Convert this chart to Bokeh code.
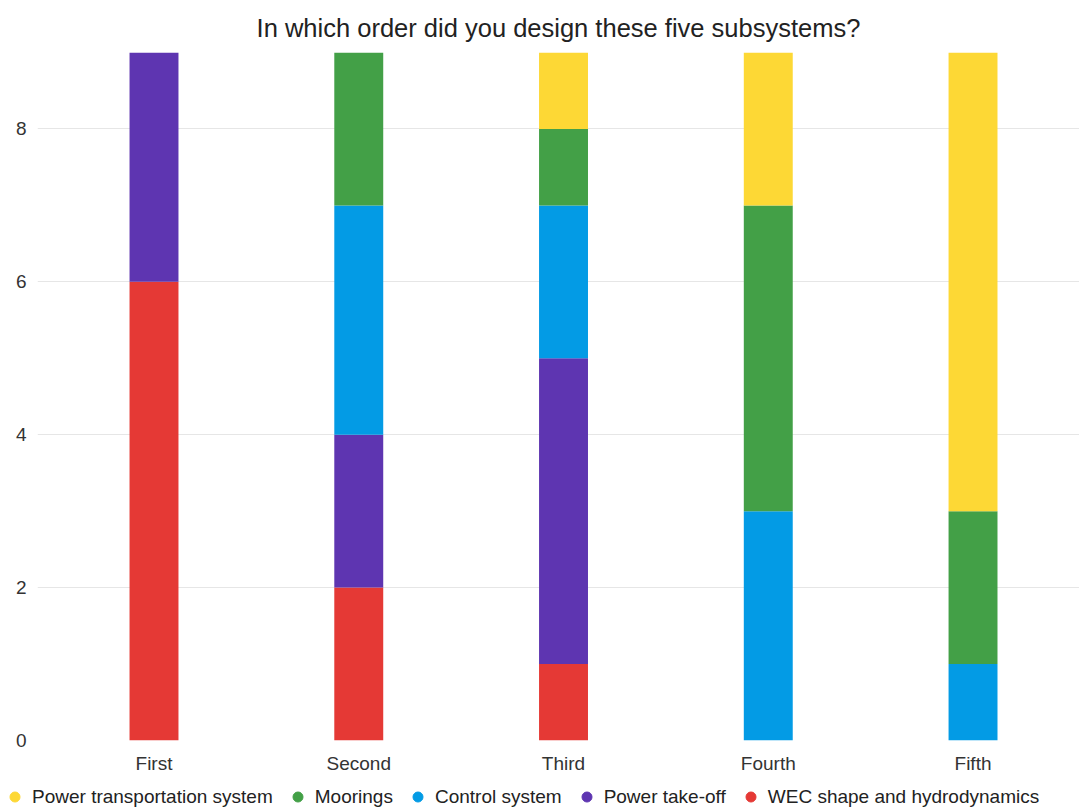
from bokeh.plotting import figure
from bokeh.layouts import column
from bokeh.models import ColumnDataSource, Legend, LegendItem, FixedTicker, Range1d
from bokeh.embed import file_html
from bokeh.resources import INLINE

categories = ["First", "Second", "Third", "Fourth", "Fifth"]
series = ["WEC shape and hydrodynamics", "Power take-off", "Control system",
          "Moorings", "Power transportation system"]
wec = [6, 2, 1, 0, 0]
pto = [3, 2, 4, 0, 0]
control = [0, 3, 2, 3, 1]
moorings = [0, 2, 1, 4, 2]
transport = [0, 0, 1, 2, 6]
colors = ["#e53935", "#5e35b1", "#039be5", "#43a047", "#fdd835"]
y_ticks = [0, 2, 4, 6, 8]

keys = ["wec", "pto", "control", "moorings", "transport"]
src = ColumnDataSource(dict(x=list(range(len(categories))), wec=wec, pto=pto,
                            control=control, moorings=moorings, transport=transport))

FONT = "Arial"
p = figure(width=1079, height=777, output_backend="svg", toolbar_location=None,
           x_range=Range1d(-0.569, 4.52), y_range=Range1d(0, 9),
           min_border_left=37, min_border_right=0, min_border_top=52, min_border_bottom=37,
           title="In which order did you design these five subsystems?")
p.outline_line_color = None
p.background_fill_color = "white"
p.border_fill_color = "white"

p.vbar_stack(keys, x="x", width=0.239, color=colors, line_color=None, source=src)

p.title.align = "center"
p.title.text_font = FONT
p.title.text_font_size = "25.5px"
p.title.text_font_style = "normal"
p.title.text_color = "#222222"
p.title.offset = 0
p.title.standoff = 22

p.xaxis.ticker = FixedTicker(ticks=list(range(len(categories))))
p.xaxis.major_label_overrides = {i: c for i, c in enumerate(categories)}
p.yaxis.ticker = FixedTicker(ticks=y_ticks)
for ax in (p.xaxis[0], p.yaxis[0]):
    ax.axis_line_color = None
    ax.major_tick_line_color = None
    ax.minor_tick_line_color = None
    ax.major_label_text_font = FONT
    ax.major_label_text_font_size = "19px"
    ax.major_label_text_color = "#333333"
p.xaxis.major_label_standoff = 6
p.yaxis.major_label_standoff = 5
p.xgrid.grid_line_color = None
p.ygrid.grid_line_color = "#e6e6e6"
p.ygrid.ticker = FixedTicker(ticks=y_ticks)

# legend strip below the chart
lg = figure(width=1079, height=32, output_backend="svg", toolbar_location=None,
            x_range=Range1d(0, 1), y_range=Range1d(0, 1),
            min_border_left=0, min_border_right=0, min_border_top=0, min_border_bottom=0)
lg.axis.visible = False
lg.grid.visible = False
lg.outline_line_color = None
lg.border_fill_color = "white"
for fig in (p, lg):
    try:
        fig.frame_align = False
    except Exception:
        pass
nan = float("nan")
legend_renderers = []
for name, col in zip(series, colors):
    r = lg.scatter(x=[nan], y=[nan], size=10, color=col, marker="circle")
    legend_renderers.append((name, r))
items = [LegendItem(label=n, renderers=[r]) for n, r in reversed(legend_renderers)]
legend = Legend(items=items, orientation="horizontal", location=(2, 0),
                label_text_font=FONT, label_text_font_size="19px", label_text_color="#222222",
                glyph_width=25, glyph_height=25, label_standoff=5, spacing=12,
                padding=0, margin=0, border_line_color=None, background_fill_alpha=0)
lg.add_layout(legend)

layout = column(p, lg, spacing=0)
open("out.html", "w").write(file_html(layout, INLINE))
